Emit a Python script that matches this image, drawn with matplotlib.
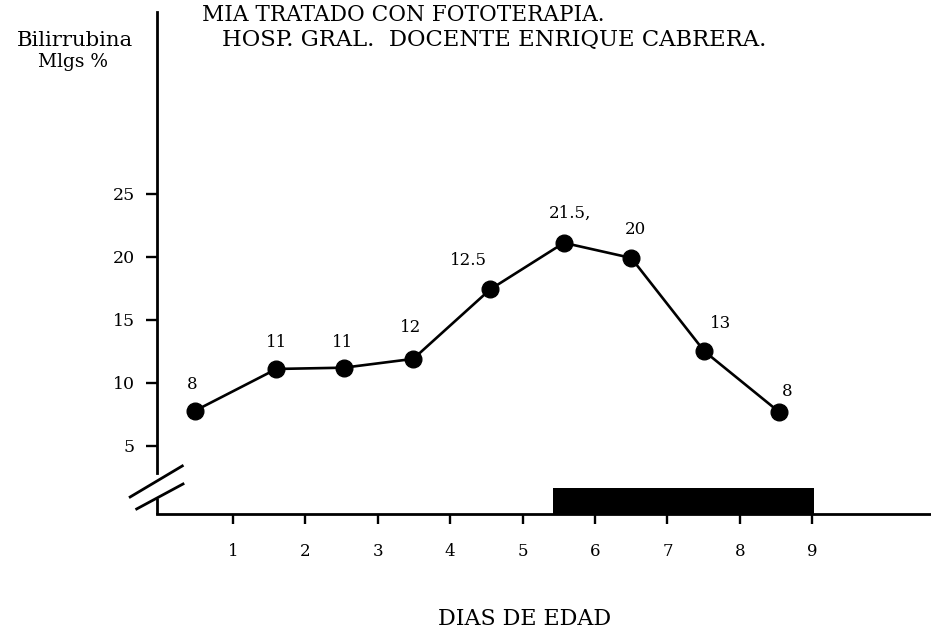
import matplotlib
matplotlib.use('Agg')
import matplotlib.pyplot as plt

# bilirubin values (mg %), points sit between day ticks
dia = [0.48, 1.6, 2.53, 3.49, 4.55, 5.57, 6.5, 7.51, 8.54]
bilirrubina = [7.8, 11.1, 11.2, 11.9, 17.4, 21.1, 19.9, 12.5, 7.7]
etiquetas = ['8', '11', '11', '12', '12.5', '21.5,', '20', '13', '8']
# label offsets in pixels (dx, dy)
offsets = [(-3, 26), (0, 26), (-1, 25), (-3, 31), (-22, 29), (6, 30), (4, 28), (16, 28), (8, 20)]

dias_ticks = [1, 2, 3, 4, 5, 6, 7, 8, 9]
y_ticks = [5, 10, 15, 20, 25]

# phototherapy period (black bar on the x axis)
foto_inicio = 5.42
foto_fin = 9.02
foto_alto = 1.7

titulo1 = 'MIA TRATADO CON FOTOTERAPIA.'
titulo2 = 'HOSP. GRAL.  DOCENTE ENRIQUE CABRERA.'
ylabel1 = 'Bilirrubina'
ylabel2 = 'Mlgs %'
xlabel = 'DIAS DE EDAD'

FONT = 'DejaVu Serif'
W, H = 931, 633
Y_MIN, Y_MAX = -0.4, 39.4

fig = plt.figure(figsize=(W / 100, H / 100), dpi=100)
ax = fig.add_axes([0.1686, 0.188, 0.8314, 0.793])
ax.set_xlim(-0.05, 10.64)
ax.set_ylim(Y_MIN, Y_MAX)

for s in ['top', 'right']:
    ax.spines[s].set_visible(False)
ax.spines['left'].set_linewidth(2.0)
ax.spines['bottom'].set_linewidth(2.0)
ax.spines['left'].set_bounds(2.85, Y_MAX)

# short piece of y axis under the break
ax.plot([0, 0], [Y_MIN, 0.87], transform=ax.get_yaxis_transform(),
        color='black', lw=2.0, clip_on=False, solid_capstyle='butt')
# break marks
ax.plot([-0.42, 0.30], [0.95, 3.41], color='black', lw=2.0, clip_on=False)
ax.plot([-0.33, 0.31], [0.0, 1.98], color='black', lw=2.0, clip_on=False)

ax.bar(foto_inicio, foto_alto - Y_MIN, width=foto_fin - foto_inicio, bottom=Y_MIN,
       align='edge', color='black', zorder=3)

ax.plot(dia, bilirrubina, color='black', lw=1.9, marker='o', markersize=12, zorder=4)
for x, y, t, (dx, dy) in zip(dia, bilirrubina, etiquetas, offsets):
    ax.annotate(t, (x, y), xytext=(dx, dy), textcoords='offset pixels',
                ha='center', va='center', fontsize=12, family=FONT)

ax.set_xticks(dias_ticks)
ax.set_xticklabels([str(d) for d in dias_ticks], family=FONT, fontsize=12)
ax.set_yticks(y_ticks)
ax.set_yticklabels([str(v) for v in y_ticks], family=FONT, fontsize=12.5)
ax.tick_params(axis='x', direction='out', length=7, width=1.7, pad=14)
ax.tick_params(axis='y', direction='out', length=8, width=1.7, pad=8)

renderer = fig.canvas.get_renderer()


def fit_text(x_px, y_px, s, width_px, ha='left'):
    # scale the font so the text spans about the same width as in the scan
    t = fig.text(x_px / W, 1 - y_px / H, s, family=FONT, fontsize=10,
                 ha=ha, va='center')
    w = t.get_window_extent(renderer).width
    t.set_fontsize(10 * width_px / w)
    return t


fit_text(202, 15, titulo1, 400)
fit_text(222, 40, titulo2, 540)
fit_text(75, 41, ylabel1, 118, ha='center')
fit_text(73, 62, ylabel2, 70, ha='center')
fit_text(525, 619, xlabel, 172, ha='center')

fig.savefig('out.png', dpi=100)
